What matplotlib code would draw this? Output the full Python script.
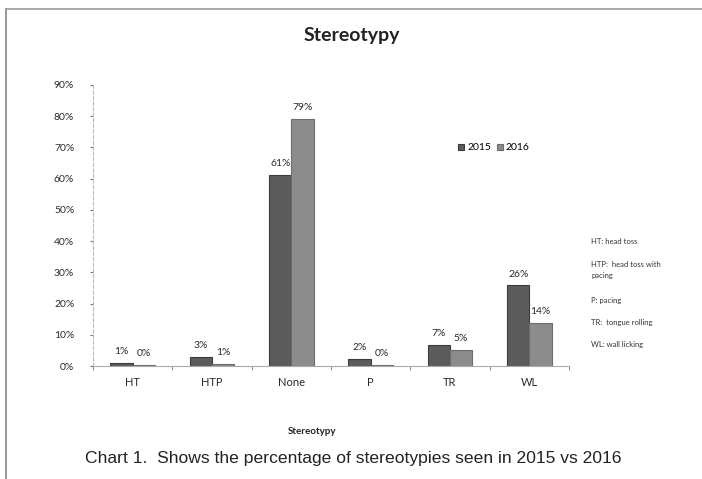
import numpy as np
import matplotlib
matplotlib.use("Agg")
import matplotlib.pyplot as plt
from matplotlib.ticker import FuncFormatter, FixedLocator
from matplotlib.lines import Line2D

plt.rcParams['font.family'] = ['Lato', 'DejaVu Sans']

categories = ["HT", "HTP", "None", "P", "TR", "WL"]
y2015 = [0.9, 2.9, 61.3, 2.1, 6.6, 25.8]
y2016 = [0.3, 0.8, 79.2, 0.2, 5.2, 13.9]
series_names = ["2015", "2016"]
yticks = [0, 10, 20, 30, 40, 50, 60, 70, 80, 90]
notes = ["HT: head toss", "HTP:  head toss with\npacing", "P: pacing",
         "TR:  tongue rolling", "WL: wall licking"]
note_y = [241, 270, 300, 322, 345]

fig = plt.figure(figsize=(7.02, 4.79), dpi=100)
ax = fig.add_axes([93/702, 1 - 366/479, (569 - 93)/702, (366 - 85)/479])

x = np.arange(len(categories))
w = 0.28
b1 = ax.bar(x - w/2, y2015, w, color="#5c5c5c", edgecolor="#3c3c3c", lw=0.8, label=series_names[0])
b2 = ax.bar(x + w/2, y2016, w, color="#8c8c8c", edgecolor="#6c6c6c", lw=0.8, label=series_names[1])

for bars in (b1, b2):
    for r in bars:
        h = r.get_height()
        ax.annotate(f"{h:.0f}%", (r.get_x() + r.get_width()/2, h),
                    xytext=(0, 5), textcoords="offset points",
                    ha="center", va="bottom", fontsize=7.5, color="#2a2a2a")

ax.set_xlim(-0.5, len(categories) - 0.5)
ax.set_ylim(0, 90)
ax.yaxis.set_major_locator(FixedLocator(yticks))
ax.yaxis.set_major_formatter(FuncFormatter(lambda v, p: f"{v:.0f}%"))
ax.set_xticks(x)
ax.set_xticklabels(categories)
ax.set_xticks(np.arange(len(categories) + 1) - 0.5, minor=True)
ax.tick_params(axis="x", which="major", length=0, pad=8, labelsize=8, colors="#2a2a2a")
ax.tick_params(axis="x", which="minor", length=3, color="#777777")
ax.tick_params(axis="y", length=2.5, pad=11, labelsize=7.5, colors="#2a2a2a", color="#777777")
for s in ("top", "right"):
    ax.spines[s].set_visible(False)
ax.spines["left"].set_color("#bbbbbb")
ax.spines["left"].set_linestyle((0, (3, 2)))
ax.spines["bottom"].set_color("#aaaaaa")
ax.spines["left"].set_linewidth(0.8)
ax.spines["bottom"].set_linewidth(0.8)

leg = ax.legend(loc="center", bbox_to_anchor=(494/702, 1 - 148/479),
                bbox_transform=fig.transFigure, ncol=2, frameon=False,
                fontsize=7.5, handlelength=0.6, handleheight=0.6,
                handletextpad=0.3, columnspacing=0.5)

fig.text(352/702, 1 - 35/479, "Stereotypy", ha="center", va="center",
         fontsize=14, fontweight="bold", color="#222222")
fig.text(312/702, 1 - 432/479, "Stereotypy", ha="center", va="center",
         fontsize=7, fontweight="bold", color="#222222")
fig.text(353/702, 1 - 459/479,
         "Chart 1.  Shows the percentage of stereotypies seen in 2015 vs 2016",
         ha="center", va="center", fontsize=12.6, color="#222222",
         family=["Liberation Sans Narrow", "Liberation Sans", "DejaVu Sans"])

for t, yy in zip(notes, note_y):
    fig.text(591/702, 1 - yy/479, t, ha="left", va="center", fontsize=5.5,
             color="#333333", linespacing=1.6)

# page frame
fig.add_artist(Line2D([6/702, 6/702], [0, 1 - 9/479], transform=fig.transFigure,
                      color="#888888", lw=1.2))
fig.add_artist(Line2D([6/702, 1], [1 - 9/479, 1 - 9/479], transform=fig.transFigure,
                      color="#999999", lw=1.2))

fig.savefig("out.png", dpi=100)
